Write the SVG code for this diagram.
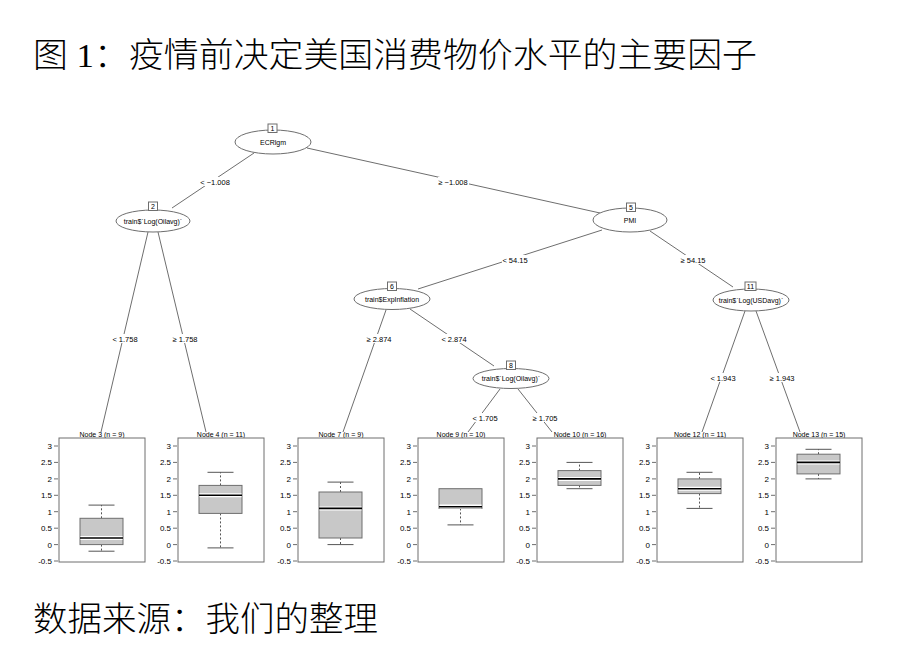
<svg xmlns="http://www.w3.org/2000/svg" width="900" height="650" viewBox="0 0 900 650">
<style>
.t{font-family:"Liberation Sans",Arial,sans-serif;fill:#000}
.big{font-family:"Liberation Serif","Noto Sans CJK SC",serif;font-size:34px;font-weight:300;fill:#000}
.nl{font-size:7px;text-anchor:middle}
.el{font-size:7.5px;text-anchor:middle}
.ax{font-size:8px;text-anchor:end}
.pt{font-size:7px;text-anchor:middle}
.edge{stroke:#6e6e6e;stroke-width:1;fill:none}
.ell{fill:#fff;stroke:#6e6e6e;stroke-width:1}
.idb{fill:#fff;stroke:#6e6e6e;stroke-width:1}
.bg{fill:#fff}
.frame{fill:#fff;stroke:#6e6e6e;stroke-width:1}
.tick{stroke:#6e6e6e;stroke-width:1}
.box{fill:#c8c8c8;stroke:#6e6e6e;stroke-width:1}
.wh{stroke:#555;stroke-width:1;stroke-dasharray:2 2}
.cap{stroke:#555;stroke-width:1}
.medw{stroke:#fff;stroke-width:4}
.med{stroke:#000;stroke-width:1.6}
</style>

<text class="big" x="33" y="67" textLength="724" lengthAdjust="spacingAndGlyphs">图 1：疫情前决定美国消费物价水平的主要因子</text>
<text class="big" x="33" y="631" textLength="345" lengthAdjust="spacingAndGlyphs">数据来源：我们的整理</text>

<g id="connectors">
<line class="edge" x1="254" y1="153" x2="172" y2="208"/>
<line class="edge" x1="307" y1="148" x2="600" y2="213"/>
<line class="edge" x1="602" y1="230" x2="418" y2="289"/>
<line class="edge" x1="650" y1="231" x2="733" y2="287"/>
<line class="edge" x1="148" y1="232" x2="101" y2="432"/>
<line class="edge" x1="158" y1="232" x2="206" y2="432"/>
<line class="edge" x1="386" y1="310" x2="343" y2="432"/>
<line class="edge" x1="410" y1="309" x2="494" y2="366"/>
<line class="edge" x1="500" y1="389" x2="468" y2="432"/>
<line class="edge" x1="518" y1="389" x2="552" y2="432"/>
<line class="edge" x1="745" y1="311" x2="702" y2="432"/>
<line class="edge" x1="756" y1="311" x2="800" y2="432"/>
<g id="edge-labels">
<rect class="bg" x="200" y="177" width="31" height="9"/><text class="t el" x="215" y="184.5">&lt; −1.008</text>
<rect class="bg" x="438" y="177" width="31" height="9"/><text class="t el" x="453" y="184.5">≥ −1.008</text>
<rect class="bg" x="502" y="255" width="26" height="9"/><text class="t el" x="515" y="262.5">&lt; 54.15</text>
<rect class="bg" x="680" y="255" width="26" height="9"/><text class="t el" x="693" y="262.5">≥ 54.15</text>
<rect class="bg" x="112" y="334" width="26" height="9"/><text class="t el" x="125" y="341.5">&lt; 1.758</text>
<rect class="bg" x="172" y="334" width="26" height="9"/><text class="t el" x="185" y="341.5">≥ 1.758</text>
<rect class="bg" x="366" y="334" width="26" height="9"/><text class="t el" x="379" y="341.5">≥ 2.874</text>
<rect class="bg" x="441" y="334" width="26" height="9"/><text class="t el" x="454" y="341.5">&lt; 2.874</text>
<rect class="bg" x="472" y="413" width="26" height="9"/><text class="t el" x="485" y="420.5">&lt; 1.705</text>
<rect class="bg" x="532" y="413" width="26" height="9"/><text class="t el" x="545" y="420.5">≥ 1.705</text>
<rect class="bg" x="710" y="373" width="26" height="9"/><text class="t el" x="723" y="380.5">&lt; 1.943</text>
<rect class="bg" x="769" y="373" width="26" height="9"/><text class="t el" x="782" y="380.5">≥ 1.943</text>
</g>
</g>

<g id="node1">
<ellipse class="ell" cx="273" cy="142" rx="38" ry="12"/>
<rect class="idb" x="268" y="124" width="9" height="8.5"/>
<text class="t nl" x="272.5" y="131">1</text>
<text class="t nl" x="273" y="144.5">ECRlgm</text>
</g>
<g id="node2">
<ellipse class="ell" cx="153" cy="221" rx="37" ry="11"/>
<rect class="idb" x="148.5" y="202" width="9" height="8.5"/>
<text class="t nl" x="153" y="209">2</text>
<text class="t nl" x="153" y="223.5">train$`Log(Oilavg)`</text>
</g>
<g id="node5">
<ellipse class="ell" cx="630" cy="220" rx="37" ry="12"/>
<rect class="idb" x="626.5" y="203" width="9" height="8.5"/>
<text class="t nl" x="631" y="210">5</text>
<text class="t nl" x="630" y="222.5">PMI</text>
</g>
<g id="node6">
<ellipse class="ell" cx="392" cy="299" rx="38" ry="10.5"/>
<rect class="idb" x="387.5" y="282" width="9" height="8.5"/>
<text class="t nl" x="392" y="289">6</text>
<text class="t nl" x="392" y="301.5">train$ExpInflation</text>
</g>
<g id="node8">
<ellipse class="ell" cx="511" cy="378.5" rx="38" ry="10"/>
<rect class="idb" x="506.5" y="361" width="9" height="8.5"/>
<text class="t nl" x="511" y="368">8</text>
<text class="t nl" x="511" y="381">train$`Log(Oilavg)`</text>
</g>
<g id="node11">
<ellipse class="ell" cx="751" cy="300" rx="38" ry="11"/>
<rect class="idb" x="745" y="282" width="11" height="8.5"/>
<text class="t nl" x="750.5" y="289">11</text>
<text class="t nl" x="751" y="302.5">train$`Log(USDavg)`</text>
</g>

<g id="node3">
<text class="t pt" x="102" y="437">Node 3 (n = 9)</text>
<rect class="frame" x="59" y="438" width="86" height="124"/>
<g class="tick"><line x1="54" y1="446" x2="58" y2="446"/><line x1="54" y1="462.4" x2="58" y2="462.4"/><line x1="54" y1="478.9" x2="58" y2="478.9"/><line x1="54" y1="495.3" x2="58" y2="495.3"/><line x1="54" y1="511.7" x2="58" y2="511.7"/><line x1="54" y1="528.2" x2="58" y2="528.2"/><line x1="54" y1="544.6" x2="58" y2="544.6"/><line x1="54" y1="561" x2="58" y2="561"/></g>
<text class="t ax" x="52" y="449">3</text><text class="t ax" x="52" y="465.4">2.5</text><text class="t ax" x="52" y="481.9">2</text><text class="t ax" x="52" y="498.3">1.5</text><text class="t ax" x="52" y="514.7">1</text><text class="t ax" x="52" y="531.2">0.5</text><text class="t ax" x="52" y="547.6">0</text><text class="t ax" x="52" y="564">-0.5</text>
<line class="wh" x1="101.5" y1="518.3" x2="101.5" y2="505.1"/><line class="wh" x1="101.5" y1="544.6" x2="101.5" y2="551.2"/>
<line class="cap" x1="88.5" y1="505.1" x2="114.5" y2="505.1"/><line class="cap" x1="88.5" y1="551.2" x2="114.5" y2="551.2"/>
<rect class="box" x="80" y="518.3" width="43" height="26.3"/>
<line class="medw" x1="80.5" y1="538" x2="122.5" y2="538"/><line class="med" x1="80" y1="538" x2="123" y2="538"/>
</g>

<g id="node4">
<text class="t pt" x="221" y="437">Node 4 (n = 11)</text>
<rect class="frame" x="178" y="438" width="86" height="124"/>
<g class="tick"><line x1="173" y1="446" x2="177" y2="446"/><line x1="173" y1="462.4" x2="177" y2="462.4"/><line x1="173" y1="478.9" x2="177" y2="478.9"/><line x1="173" y1="495.3" x2="177" y2="495.3"/><line x1="173" y1="511.7" x2="177" y2="511.7"/><line x1="173" y1="528.2" x2="177" y2="528.2"/><line x1="173" y1="544.6" x2="177" y2="544.6"/><line x1="173" y1="561" x2="177" y2="561"/></g>
<text class="t ax" x="171" y="449">3</text><text class="t ax" x="171" y="465.4">2.5</text><text class="t ax" x="171" y="481.9">2</text><text class="t ax" x="171" y="498.3">1.5</text><text class="t ax" x="171" y="514.7">1</text><text class="t ax" x="171" y="531.2">0.5</text><text class="t ax" x="171" y="547.6">0</text><text class="t ax" x="171" y="564">-0.5</text>
<line class="wh" x1="220.5" y1="485.4" x2="220.5" y2="472.3"/><line class="wh" x1="220.5" y1="513.4" x2="220.5" y2="547.9"/>
<line class="cap" x1="207.5" y1="472.3" x2="233.5" y2="472.3"/><line class="cap" x1="207.5" y1="547.9" x2="233.5" y2="547.9"/>
<rect class="box" x="199" y="485.4" width="43" height="28"/>
<line class="medw" x1="199.5" y1="495.3" x2="241.5" y2="495.3"/><line class="med" x1="199" y1="495.3" x2="242" y2="495.3"/>
</g>

<g id="node7">
<text class="t pt" x="341" y="437">Node 7 (n = 9)</text>
<rect class="frame" x="298" y="438" width="86" height="124"/>
<g class="tick"><line x1="293" y1="446" x2="297" y2="446"/><line x1="293" y1="462.4" x2="297" y2="462.4"/><line x1="293" y1="478.9" x2="297" y2="478.9"/><line x1="293" y1="495.3" x2="297" y2="495.3"/><line x1="293" y1="511.7" x2="297" y2="511.7"/><line x1="293" y1="528.2" x2="297" y2="528.2"/><line x1="293" y1="544.6" x2="297" y2="544.6"/><line x1="293" y1="561" x2="297" y2="561"/></g>
<text class="t ax" x="291" y="449">3</text><text class="t ax" x="291" y="465.4">2.5</text><text class="t ax" x="291" y="481.9">2</text><text class="t ax" x="291" y="498.3">1.5</text><text class="t ax" x="291" y="514.7">1</text><text class="t ax" x="291" y="531.2">0.5</text><text class="t ax" x="291" y="547.6">0</text><text class="t ax" x="291" y="564">-0.5</text>
<line class="wh" x1="340.5" y1="492" x2="340.5" y2="482.1"/><line class="wh" x1="340.5" y1="538" x2="340.5" y2="544.6"/>
<line class="cap" x1="327.5" y1="482.1" x2="353.5" y2="482.1"/><line class="cap" x1="327.5" y1="544.6" x2="353.5" y2="544.6"/>
<rect class="box" x="319" y="492" width="43" height="46"/>
<line class="medw" x1="319.5" y1="508.4" x2="361.5" y2="508.4"/><line class="med" x1="319" y1="508.4" x2="362" y2="508.4"/>
</g>

<g id="node9">
<text class="t pt" x="461" y="437">Node 9 (n = 10)</text>
<rect class="frame" x="418" y="438" width="86" height="124"/>
<g class="tick"><line x1="413" y1="446" x2="417" y2="446"/><line x1="413" y1="462.4" x2="417" y2="462.4"/><line x1="413" y1="478.9" x2="417" y2="478.9"/><line x1="413" y1="495.3" x2="417" y2="495.3"/><line x1="413" y1="511.7" x2="417" y2="511.7"/><line x1="413" y1="528.2" x2="417" y2="528.2"/><line x1="413" y1="544.6" x2="417" y2="544.6"/><line x1="413" y1="561" x2="417" y2="561"/></g>
<text class="t ax" x="411" y="449">3</text><text class="t ax" x="411" y="465.4">2.5</text><text class="t ax" x="411" y="481.9">2</text><text class="t ax" x="411" y="498.3">1.5</text><text class="t ax" x="411" y="514.7">1</text><text class="t ax" x="411" y="531.2">0.5</text><text class="t ax" x="411" y="547.6">0</text><text class="t ax" x="411" y="564">-0.5</text>
<line class="wh" x1="460.5" y1="508.4" x2="460.5" y2="524.9"/>
<line class="cap" x1="447.5" y1="524.9" x2="473.5" y2="524.9"/>
<rect class="box" x="439" y="488.7" width="43" height="19.7"/>
<line class="medw" x1="439.5" y1="506.6" x2="481.5" y2="506.6"/><line class="med" x1="439" y1="506.8" x2="482" y2="506.8"/>
</g>

<g id="node10">
<text class="t pt" x="580" y="437">Node 10 (n = 16)</text>
<rect class="frame" x="537" y="438" width="86" height="124"/>
<g class="tick"><line x1="532" y1="446" x2="536" y2="446"/><line x1="532" y1="462.4" x2="536" y2="462.4"/><line x1="532" y1="478.9" x2="536" y2="478.9"/><line x1="532" y1="495.3" x2="536" y2="495.3"/><line x1="532" y1="511.7" x2="536" y2="511.7"/><line x1="532" y1="528.2" x2="536" y2="528.2"/><line x1="532" y1="544.6" x2="536" y2="544.6"/><line x1="532" y1="561" x2="536" y2="561"/></g>
<text class="t ax" x="530" y="449">3</text><text class="t ax" x="530" y="465.4">2.5</text><text class="t ax" x="530" y="481.9">2</text><text class="t ax" x="530" y="498.3">1.5</text><text class="t ax" x="530" y="514.7">1</text><text class="t ax" x="530" y="531.2">0.5</text><text class="t ax" x="530" y="547.6">0</text><text class="t ax" x="530" y="564">-0.5</text>
<line class="wh" x1="579.5" y1="470.6" x2="579.5" y2="462.4"/><line class="wh" x1="579.5" y1="485.4" x2="579.5" y2="488.7"/>
<line class="cap" x1="566.5" y1="462.4" x2="592.5" y2="462.4"/><line class="cap" x1="566.5" y1="488.7" x2="592.5" y2="488.7"/>
<rect class="box" x="558" y="470.6" width="43" height="14.8"/>
<line class="medw" x1="558.5" y1="478.9" x2="600.5" y2="478.9"/><line class="med" x1="558" y1="478.9" x2="601" y2="478.9"/>
</g>

<g id="node12">
<text class="t pt" x="700" y="437">Node 12 (n = 11)</text>
<rect class="frame" x="657" y="438" width="86" height="124"/>
<g class="tick"><line x1="652" y1="446" x2="656" y2="446"/><line x1="652" y1="462.4" x2="656" y2="462.4"/><line x1="652" y1="478.9" x2="656" y2="478.9"/><line x1="652" y1="495.3" x2="656" y2="495.3"/><line x1="652" y1="511.7" x2="656" y2="511.7"/><line x1="652" y1="528.2" x2="656" y2="528.2"/><line x1="652" y1="544.6" x2="656" y2="544.6"/><line x1="652" y1="561" x2="656" y2="561"/></g>
<text class="t ax" x="650" y="449">3</text><text class="t ax" x="650" y="465.4">2.5</text><text class="t ax" x="650" y="481.9">2</text><text class="t ax" x="650" y="498.3">1.5</text><text class="t ax" x="650" y="514.7">1</text><text class="t ax" x="650" y="531.2">0.5</text><text class="t ax" x="650" y="547.6">0</text><text class="t ax" x="650" y="564">-0.5</text>
<line class="wh" x1="699.5" y1="478.9" x2="699.5" y2="472.3"/><line class="wh" x1="699.5" y1="493.6" x2="699.5" y2="508.4"/>
<line class="cap" x1="686.5" y1="472.3" x2="712.5" y2="472.3"/><line class="cap" x1="686.5" y1="508.4" x2="712.5" y2="508.4"/>
<rect class="box" x="678" y="478.9" width="43" height="14.7"/>
<line class="medw" x1="678.5" y1="488.7" x2="720.5" y2="488.7"/><line class="med" x1="678" y1="488.7" x2="721" y2="488.7"/>
</g>

<g id="node13">
<text class="t pt" x="819" y="437">Node 13 (n = 15)</text>
<rect class="frame" x="776" y="438" width="86" height="124"/>
<g class="tick"><line x1="771" y1="446" x2="775" y2="446"/><line x1="771" y1="462.4" x2="775" y2="462.4"/><line x1="771" y1="478.9" x2="775" y2="478.9"/><line x1="771" y1="495.3" x2="775" y2="495.3"/><line x1="771" y1="511.7" x2="775" y2="511.7"/><line x1="771" y1="528.2" x2="775" y2="528.2"/><line x1="771" y1="544.6" x2="775" y2="544.6"/><line x1="771" y1="561" x2="775" y2="561"/></g>
<text class="t ax" x="769" y="449">3</text><text class="t ax" x="769" y="465.4">2.5</text><text class="t ax" x="769" y="481.9">2</text><text class="t ax" x="769" y="498.3">1.5</text><text class="t ax" x="769" y="514.7">1</text><text class="t ax" x="769" y="531.2">0.5</text><text class="t ax" x="769" y="547.6">0</text><text class="t ax" x="769" y="564">-0.5</text>
<line class="wh" x1="818.5" y1="454.2" x2="818.5" y2="449.3"/><line class="wh" x1="818.5" y1="473.9" x2="818.5" y2="478.9"/>
<line class="cap" x1="805.5" y1="449.3" x2="831.5" y2="449.3"/><line class="cap" x1="805.5" y1="478.9" x2="831.5" y2="478.9"/>
<rect class="box" x="797" y="454.2" width="43" height="19.7"/>
<line class="medw" x1="797.5" y1="462.4" x2="839.5" y2="462.4"/><line class="med" x1="797" y1="462.4" x2="840" y2="462.4"/>
</g>
</svg>
